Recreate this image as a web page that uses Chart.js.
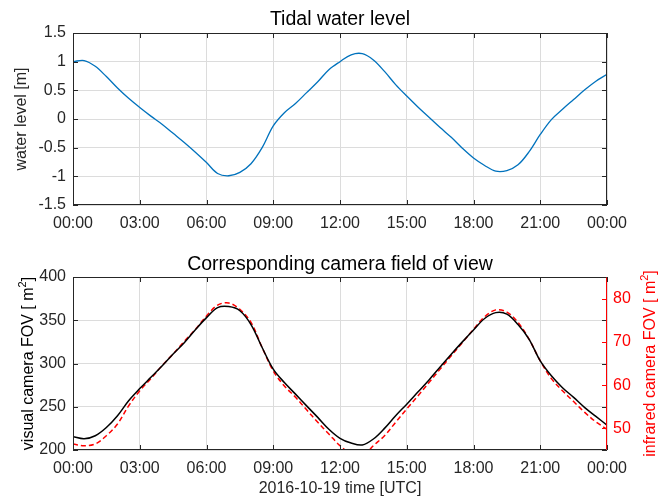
<!DOCTYPE html>
<html lang="en">
<head>
<meta charset="UTF-8">
<title>Tidal water level and camera FOV</title>
<script src="https://cdn.jsdelivr.net/npm/chart.js"></script>
<style>
  body { margin: 0; background: #fff; }
  .wrap { position: absolute; left: 0; width: 671px; }
  #top { top: 0; height: 240px; }
  #bottom { top: 240px; height: 259px; }
</style>
</head>
<body>
<div class="wrap" id="top"><canvas id="levelChart"></canvas></div>
<div class="wrap" id="bottom"><canvas id="fovChart"></canvas></div>
<script>
// time in hours since 2016-10-19 00:00 UTC
const hours = [0, 0.5, 1, 1.5, 2, 2.5, 3, 3.5, 4, 4.5, 5, 5.5, 6, 6.5, 7, 7.5, 8, 8.5, 9, 9.5,
  10, 10.5, 11, 11.5, 12, 12.5, 13, 13.5, 14, 14.5, 15, 15.5, 16, 16.5, 17, 17.5, 18, 18.5, 19, 19.5,
  20, 20.5, 21, 21.5, 22, 22.5, 23, 23.5, 24];

const waterLevel = [1.00, 1.02, 0.92, 0.74, 0.54, 0.36, 0.20, 0.05, -0.09, -0.25,
  -0.41, -0.58, -0.76, -0.95, -0.99, -0.93, -0.78, -0.50, -0.12, 0.11,
  0.27, 0.46, 0.65, 0.86, 1.00, 1.12, 1.14, 1.03, 0.83, 0.60,
  0.40, 0.21, 0.03, -0.15, -0.32, -0.51, -0.68, -0.81, -0.91, -0.90,
  -0.80, -0.57, -0.27, -0.01, 0.17, 0.34, 0.51, 0.66, 0.78];

const visualFov = [215.4, 213, 216.5, 226, 239.6, 257, 271, 284, 297, 311,
  324, 339, 353, 364.6, 365.8, 361, 345, 318.5, 293.5, 278,
  264.6, 251, 237.7, 224, 213.5, 208, 205.8, 212.7, 225, 239.6,
  253, 267, 281, 296, 310.8, 325, 338.8, 352, 358.8, 357,
  345, 328, 303, 285.8, 272, 260.8, 249, 238.8, 228.8];

const infraredFov = [46.4, 46.0, 46.4, 48.3, 51.0, 55.2, 58.7, 61.5, 64.5, 67.2,
  70.1, 72.9, 76.0, 78.5, 79.0, 77.5, 74.5, 68.7, 63.3, 59.8,
  57.2, 54.3, 51.4, 48.7, 46.0, 44.1, 43.5, 46.0, 48.3, 51.4,
  54.5, 57.5, 60.6, 63.7, 66.8, 69.8, 72.9, 75.8, 77.4, 76.9,
  74.5, 70.6, 65.6, 61.5, 58.7, 56.2, 53.7, 51.5, 49.8];

const xTicks = [0, 3, 6, 9, 12, 15, 18, 21, 24];
const levelTicks = [-1.5, -1, -0.5, 0, 0.5, 1, 1.5];
const visualTicks = [200, 250, 300, 350, 400];
const infraredTicks = [50, 60, 70, 80];

const FONT = "'Liberation Sans', Arial, sans-serif";
const TEXT = '#262626';
const GRID = '#dcdcdc';

function pairs(ys) {
  return hours.map((h, i) => ({ x: h, y: ys[i] }));
}

function hourLabel(v) {
  return String(v % 24).padStart(2, '0') + ':00';
}

function setTicks(list) {
  return scale => { scale.ticks = list.map(v => ({ value: v })); };
}

function line(ctx, x1, y1, x2, y2) {
  ctx.beginPath();
  ctx.moveTo(x1, y1);
  ctx.lineTo(x2, y2);
  ctx.stroke();
}

// rotated axis title, parts may carry a smaller raised piece (superscript)
function rotatedTitle(ctx, parts, cx, cy, color) {
  ctx.save();
  ctx.translate(cx, cy);
  ctx.rotate(-Math.PI / 2);
  ctx.fillStyle = color;
  ctx.textBaseline = 'middle';
  ctx.textAlign = 'left';
  let total = 0;
  parts.forEach(p => { ctx.font = p.size + 'px ' + FONT; p.w = ctx.measureText(p.text).width; total += p.w; });
  let x = -total / 2;
  parts.forEach(p => {
    ctx.font = p.size + 'px ' + FONT;
    ctx.fillText(p.text, x, p.dy || 0);
    x += p.w;
  });
  ctx.restore();
}

function tickMarks(ctx, scale, a, sides, color) {
  ctx.strokeStyle = color;
  scale.ticks.forEach(t => {
    const p = Math.round(scale.getPixelForValue(t.value)) + 0.5;
    if (sides.includes('bottom')) line(ctx, p, a.bottom, p, a.bottom - 5);
    if (sides.includes('top')) line(ctx, p, a.top, p, a.top + 5);
    if (sides.includes('left')) line(ctx, a.left, p, a.left + 5, p);
    if (sides.includes('right')) line(ctx, a.right, p, a.right - 5, p);
  });
}

const levelDecor = {
  id: 'levelDecor',
  afterDraw(chart) {
    const { ctx, chartArea: a, scales } = chart;
    const l = Math.round(a.left) + 0.5, r = Math.round(a.right) - 0.5;
    const t = Math.round(a.top) + 0.5, b = Math.round(a.bottom) - 0.5;
    ctx.save();
    ctx.lineWidth = 1;
    tickMarks(ctx, scales.x, a, ['top', 'bottom'], TEXT);
    tickMarks(ctx, scales.y, a, ['left', 'right'], TEXT);
    ctx.strokeStyle = TEXT;
    ctx.strokeRect(l, t, r - l, b - t);
    ctx.fillStyle = '#000';
    ctx.font = '19.5px ' + FONT;
    ctx.textAlign = 'center';
    ctx.textBaseline = 'middle';
    ctx.fillText('Tidal water level', (a.left + a.right) / 2, 20);
    rotatedTitle(ctx, [{ text: 'water level [m]', size: 16 }], 22, (a.top + a.bottom) / 2, TEXT);
    ctx.restore();
  }
};

const fovDecor = {
  id: 'fovDecor',
  afterDraw(chart) {
    const { ctx, chartArea: a, scales } = chart;
    const l = Math.round(a.left) + 0.5, r = Math.round(a.right) - 0.5;
    const t = Math.round(a.top) + 0.5, b = Math.round(a.bottom) - 0.5;
    ctx.save();
    ctx.lineWidth = 1;
    tickMarks(ctx, scales.x, a, ['top', 'bottom'], TEXT);
    tickMarks(ctx, scales.y, a, ['left', 'right'], TEXT);
    tickMarks(ctx, scales.y1, a, ['right'], '#ff0000');
    ctx.strokeStyle = TEXT;
    line(ctx, l, t, r, t);
    line(ctx, l, b, r, b);
    line(ctx, l, t, l, b);
    ctx.strokeStyle = '#ff0000';
    line(ctx, r, t, r, b);
    ctx.fillStyle = '#000';
    ctx.font = '19.5px ' + FONT;
    ctx.textAlign = 'center';
    ctx.textBaseline = 'middle';
    ctx.fillText('Corresponding camera field of view', (a.left + a.right) / 2, 25);
    ctx.fillStyle = TEXT;
    ctx.font = '16px ' + FONT;
    ctx.fillText('2016-10-19 time [UTC]', (a.left + a.right) / 2, 249);
    const cy = (a.top + a.bottom) / 2;
    rotatedTitle(ctx, [
      { text: 'visual camera FOV [ m', size: 16 },
      { text: '2', size: 11, dy: -6 },
      { text: ']', size: 16 }
    ], 29, cy, '#000');
    rotatedTitle(ctx, [
      { text: 'infrared camera FOV [ m', size: 16 },
      { text: '2', size: 11, dy: -6 },
      { text: ']', size: 16 }
    ], 651, cy, '#ff0000');
    ctx.restore();
  }
};

Chart.defaults.font.family = FONT;
Chart.defaults.font.size = 16;
Chart.defaults.color = TEXT;
Chart.defaults.animation = false;

const xScale = (height) => ({
  type: 'linear',
  min: 0,
  max: 24,
  afterBuildTicks: setTicks(xTicks),
  afterFit: s => { s.height = height; },
  grid: { color: GRID, drawTicks: false },
  border: { display: false },
  ticks: { callback: hourLabel, padding: 9, maxRotation: 0, autoSkip: false, color: TEXT }
});

new Chart(document.getElementById('levelChart'), {
  type: 'line',
  data: {
    datasets: [{
      data: pairs(waterLevel),
      borderColor: '#0072bd',
      borderWidth: 1.3,
      pointRadius: 0,
      tension: 0.35
    }]
  },
  options: {
    responsive: true,
    maintainAspectRatio: false,
    layout: { padding: { top: 33, right: 64, left: 0, bottom: 0 } },
    plugins: { legend: { display: false }, tooltip: { enabled: false } },
    scales: {
      x: xScale(35),
      y: {
        min: -1.5,
        max: 1.5,
        afterBuildTicks: setTicks(levelTicks),
        afterFit: s => { s.width = 73; },
        grid: { color: GRID, drawTicks: false },
        border: { display: false },
        ticks: { callback: v => String(v), padding: 7, color: TEXT }
      }
    }
  },
  plugins: [levelDecor]
});

new Chart(document.getElementById('fovChart'), {
  type: 'line',
  data: {
    datasets: [{
      data: pairs(visualFov),
      borderColor: '#000000',
      borderWidth: 1.5,
      pointRadius: 0,
      tension: 0.35,
      yAxisID: 'y'
    }, {
      data: pairs(infraredFov),
      borderColor: '#ff0000',
      borderWidth: 1.5,
      borderDash: [5, 3],
      pointRadius: 0,
      tension: 0.35,
      yAxisID: 'y1'
    }]
  },
  options: {
    responsive: true,
    maintainAspectRatio: false,
    layout: { padding: { top: 37, right: 0, left: 0, bottom: 0 } },
    plugins: { legend: { display: false }, tooltip: { enabled: false } },
    scales: {
      x: xScale(49),
      y: {
        position: 'left',
        min: 200,
        max: 400,
        afterBuildTicks: setTicks(visualTicks),
        afterFit: s => { s.width = 73; },
        grid: { color: GRID, drawTicks: false },
        border: { display: false },
        ticks: { padding: 7, color: TEXT }
      },
      y1: {
        position: 'right',
        min: 45,
        max: 85,
        afterBuildTicks: setTicks(infraredTicks),
        afterFit: s => { s.width = 64; },
        grid: { display: false, drawTicks: false },
        border: { display: false },
        ticks: { padding: 6, color: '#ff0000' }
      }
    }
  },
  plugins: [fovDecor]
});
</script>
</body>
</html>
